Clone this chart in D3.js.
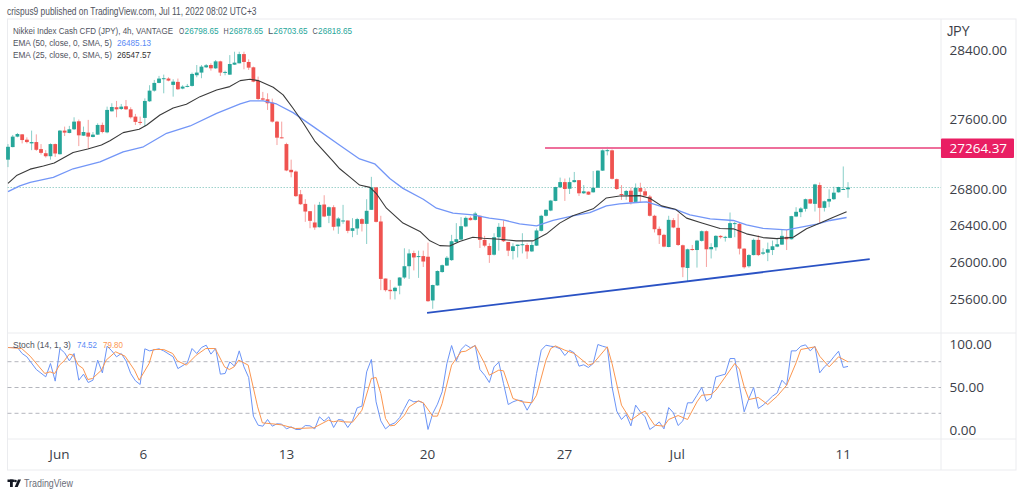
<!DOCTYPE html>
<html><head><meta charset="utf-8">
<script src="https://cdnjs.cloudflare.com/ajax/libs/d3/7.8.5/d3.min.js"></script>
<style>
html,body{margin:0;padding:0;background:#fff;overflow:hidden}
text{font-family:"Open Sans",sans-serif}
</style></head><body><svg id="c" width="1024" height="495"></svg>
<script>
const opens=[27132,27275,27394,27420,27359,27317,27332,27252,27205,27171,27309,27194,27463,27436,27478,27570,27405,27440,27390,27417,27528,27443,27685,27732,27712,27743,27708,27624,27563,27609,27801,27925,28015,28062,28066,27992,28027,27949,27972,27980,28105,28136,28198,28225,28186,28268,28136,28112,28229,28245,28354,28261,28198,28038,27835,27824,27785,27566,27386,27309,27017,26998,26743,26636,26555,26430,26378,26629,26504,26599,26386,26445,26452,26338,26364,26467,26415,26570,26820,26441,25819,25698,25683,25742,25830,25952,26095,26051,26062,26055,25584,25745,25889,25959,26018,26216,26242,26386,26481,26459,26504,26239,26172,26077,26268,26382,26216,26117,26172,26183,26183,26113,26176,26338,26504,26562,26669,26820,26879,26805,26879,26901,26754,26772,26765,26816,27008,27228,27238,26912,26746,26735,26783,26658,26813,26776,26717,26504,26360,26294,26161,26456,26371,26180,25933,26139,26128,26228,26334,26136,26158,26283,26264,26261,26415,26415,26143,25952,26073,26239,26088,26099,26128,26165,26187,26272,26246,26496,26544,26581,26688,26636,26846,26592,26662,26688,26765,26791,26798.65];
const highs=[27309,27413,27436,27424,27386,27463,27420,27309,27240,27317,27315,27470,27509,27517,27616,27590,27509,27586,27447,27547,27555,27739,27778,27805,27770,27816,27732,27655,27624,27835,27988,28050,28097,28112,28081,28058,28066,27988,28003,28136,28225,28225,28237,28245,28284,28276,28159,28342,28382,28382,28382,28292,28206,28089,27910,27894,27832,27575,27566,27324,27132,27010,26791,26688,26555,26629,26658,26732,26607,26621,26489,26625,26452,26478,26481,26478,26688,26938,26825,26504,25819,25804,25731,25834,26147,26136,26121,26121,26121,26209,25753,25907,25970,26062,26294,26423,26489,26496,26496,26548,26504,26283,26202,26312,26423,26452,26216,26202,26187,26312,26202,26220,26364,26515,26577,26680,26827,26930,26919,26930,26993,26901,26846,26775,27004,27012,27248,27277,27248,26919,26846,26791,26820,26864,26872,26809,26735,26515,26386,26305,26504,26478,26526,26187,26143,26183,26239,26342,26342,26202,26290,26290,26283,26540,26437,26423,26147,26084,26253,26290,26147,26209,26231,26257,26349,26349,26504,26599,26599,26695,26695,26860,26875,26673,26798,26827,26827,27055,26878.65];
const lows=[27048,27272,27386,27317,27317,27240,27232,27190,27156,27132,27163,27190,27401,27432,27470,27286,27401,27259,27386,27413,27432,27432,27682,27616,27701,27701,27601,27528,27528,27509,27793,27913,28011,27894,28034,27855,27933,27941,27964,27972,28081,28070,28190,28159,28179,28097,28105,28108,28225,28245,28175,28167,28023,27816,27808,27701,27555,27298,27374,27002,26933,26714,26625,26437,26367,26349,26375,26489,26423,26342,26305,26415,26312,26268,26294,26331,26194,26570,26430,25694,25679,25595,25595,25650,25815,25815,25907,25826,25944,25569,25495,25742,25882,25955,26010,26209,26239,26378,26452,26452,26150,26158,25988,26069,26121,26216,26062,26025,26047,26091,26032,26106,26172,26331,26496,26555,26665,26820,26669,26746,26875,26724,26746,26735,26761,26813,27004,27181,26908,26791,26680,26680,26629,26651,26658,26717,26496,26320,26194,26158,26158,26367,26172,25834,25790,26121,25937,26220,25944,26036,26121,26253,26220,26257,26268,26080,25926,25937,26069,26062,26073,26007,26073,26158,26183,26128,26242,26489,26489,26551,26636,26551,26423,26551,26599,26680,26761,26791,26703.65];
const closes=[27278,27394,27424,27355,27332,27332,27244,27209,27171,27309,27202,27463,27440,27478,27566,27409,27447,27394,27417,27528,27447,27701,27735,27708,27739,27708,27616,27563,27555,27805,27925,28015,28066,28070,28042,28030,27941,27972,27980,28120,28136,28206,28222,28186,28268,28136,28144,28237,28253,28354,28261,28194,28030,27828,27820,27778,27566,27382,27378,27010,26990,26722,26632,26551,26448,26375,26625,26496,26599,26382,26474,26452,26338,26367,26467,26415,26559,26820,26437,25815,25694,25683,25720,25830,25952,26091,26047,26062,26003,25576,25749,25900,25963,26044,26224,26246,26389,26481,26456,26529,26239,26176,26073,26268,26382,26224,26121,26169,26187,26191,26113,26183,26342,26504,26570,26673,26824,26879,26802,26879,26901,26754,26776,26739,26816,27008,27238,27240,26916,26802,26735,26780,26654,26816,26772,26728,26504,26356,26290,26165,26459,26375,26183,25940,26136,26128,26231,26334,26136,26161,26283,26268,26272,26423,26423,26143,25941,26073,26239,26073,26102,26136,26169,26191,26283,26246,26500,26548,26585,26688,26640,26853,26592,26665,26691,26761,26824,26802,26818.65];

const ema25Idx=[0,1.8,4.7,7.5,9.8,13.8,16.9,19.8,21.6,24.4,27.8,29.4,32.2,35,37.8,40.7,44.2,47,49.2,51.3,53,56.2,58.3,60.4,62.6,65,69,70.3,72.4,74.5,76.7,78,80.2,83.7,87.3,89.4,91.5,93.6,95.7,98.5,100.7,104.2,107.7,111.3,114.1,116.9,119.7,124,126.8,129.6,133.9,136,138.5,141.4,143.8,146.7,150.9,153.7,156.5,160,162.9,166.4,169.2,172.1,174.9,177.7];
const ema25Val=[26864,26952,27025,27060,27094,27213,27252,27298,27348,27440,27478,27528,27643,27724,27766,27855,27933,27972,28042,28058,28042,27964,27875,27720,27547,27344,27106,27029,26938,26846,26820,26754,26588,26423,26331,26228,26176,26172,26220,26268,26257,26246,26228,26228,26305,26423,26504,26581,26702,26724,26728,26699,26614,26577,26478,26430,26364,26360,26305,26264,26253,26268,26360,26423,26489,26547.57];
const ema50Idx=[0,2.5,4.7,9.6,13.8,19.5,24.4,28.7,33.6,38.6,44.2,49.2,51.3,54.1,56.9,60.4,64.7,70.3,74.5,77.7,80.9,83.7,88,90.8,94.3,98.5,102,104.9,108.4,112,115.5,119.7,123.3,126.8,129.6,133.9,135.3,138.9,141.7,144.5,148.8,153.7,156.5,160,165,167.8,171.4,174.2,177.7];
const ema50Val=[26772,26837,26875,26933,27029,27106,27221,27278,27432,27516,27662,27770,27805,27805,27770,27670,27509,27296,27140,27085,26919,26809,26688,26588,26533,26515,26478,26459,26415,26393,26452,26504,26540,26614,26636,26654,26658,26599,26570,26515,26470,26452,26404,26364,26349,26375,26412,26452,26485.13];

const kIdx=[0,2,3,4,6,8,9,10,11,12,13,14,15,16,17,18,19,20,21,22,23,24,25,26,27,28,29,30,32,33,35,36,38,39,40,41,42,43,44,45,46,47,48,49,50,51,52,53,54,55,56,57,58,59,60,61,62,63,64,65,66,67,68,69,70,71,72,73,74,75,76,77,78,79,80,81,82,83,84,85,86,87,88,89,90,91,92,93,94,95,96,97,98,99,100,101,102,103,104,105,106,107,108,109,110,111,112,113,114,115,116,117,118,119,120,121,122,123,124,125,126,127,128,129,130,131,132,133,134,135,136,137,138,139,140,141,142,143,144,145,146,147,148,149,150,152,153,154,155,156,157,158,159,160,161,162,163,164,165,166,167,168,169,170,171,172,173,174,175,176,177,178];
const kVal=[96.5,96.5,89.5,85.7,70.9,62.4,77.9,57.4,95.3,90.3,81,89.5,58.5,65.5,55.8,58.5,81.8,67,98,92.6,85.7,89.5,81,66.3,57.8,53.5,95,92.6,95,92.6,85.7,72,78.7,95.3,89.5,96.5,99.2,88.8,95.3,65.5,66.3,79.8,74.8,92.6,74,61.6,16.7,6.2,5,12.8,5,7.8,7.4,1.9,4.3,1.2,1.2,5.8,5.4,1.9,15.9,10.9,15.9,3.5,12.8,12,3.5,11.2,26.4,28.3,68.2,82.6,33.3,11.2,1.9,6.6,8.9,15.1,25.6,36,33.3,34.1,32.2,1.2,19.8,30.6,45,77.9,98.8,81,94.2,99.6,96.1,98.8,70.9,64.3,55.8,74,79.5,54.7,30.2,33.3,35.3,34.5,23.6,33.3,66.3,93.4,99.2,98,97.3,95,87.2,93.4,90.3,74.8,76.4,73.3,77.9,100,98,96.5,50.8,22.5,12.8,18.6,5.4,29.5,21.7,15.9,1.2,5,10,1.9,26.7,20.5,5.8,11.2,32.2,32.2,41,50,34.1,38,62.4,65.5,83.7,83.7,52.7,21.7,37.2,50,25.6,29.5,34.5,39.9,43.8,58.5,52.7,92.6,92.6,98,99.6,92.6,98,67,74,78.7,85.7,92.2,73.3,74.52];
const dIdx=[0,2.9,4.7,7.8,8.9,9.9,10.9,11.9,13,13.8,14.9,15.9,16.9,17.9,19.8,20.8,22.8,24.8,26.8,27.8,29.9,30.8,33,34.9,35.9,37.8,39.9,41.9,43.9,45.9,46.9,47.9,48.9,50.9,52.9,53.9,55.9,57.9,60.9,64.8,67.9,68.9,70,71,73,75,77,78,79,80,81,82,84,85,87,88,90,91,92,94,96,97,99,101,102,104,105,107,109,111,112,114,115,116,118,120,123,124,127,128,130,132,134,135,137,139,140,142,144,146,147,149,150,154,155,156,157,159,161,163,165,167,168,171,172,174,176,178];
const dVal=[96.5,95.3,86.4,66.3,68.2,66.3,76,81,88.8,87.6,76,72.1,59.3,60.5,70.2,81.8,91.5,86.4,70.2,58.5,77.9,94.2,94.2,89.5,81,76,87.6,95.3,95.3,74,70.9,74,81.8,76,27.5,8.9,7.8,6.6,2.3,3.1,12,10.1,11.2,10.1,9.7,23.6,60.5,61.6,43,14,5.4,6.2,17.8,27.5,34.5,32.2,16.7,16.7,31.4,76,91.5,92.2,98.8,77.9,64.3,70.2,69.4,37.2,33.3,32.2,41,81.8,95.3,98.4,93.4,89.5,76,77.9,97.3,77.9,29.5,12,19.8,22.5,6.2,5,12.8,17.4,12.8,33.3,41,41.9,46.9,77.9,71.3,50.8,36,38.4,30.2,39.9,52.7,78.7,94.2,97.3,86.4,74,85.7,79.8];

const priceTicks=[28400,27600,26800,26400,26000,25600];
const stochTicks=[100,50,0];
const stochBands=[80,50,20];
const timeIdx=[10.8,28.6,58.9,88.8,117.8,141.7,176.9];
const timeLabels=["Jun","6","13","20","27","Jul","11"];
const resistance=27264.37;
const resistanceFromIdx=113.8;
const supportIdx=[88.8,182.6];
const supportVal=[25451,26029];
const lastClose=26818.65;
const legendTitle="Nikkei Index Cash CFD (JPY), 4h, VANTAGE";
const ohlcLabels=[["O","26798.65"],["H","26878.65"],["L","26703.65"],["C","26818.65"]];

const UP="#26a69a",DOWN="#ef5350",GRID="#ebecef",TXT="#3b3e48";
const L=7.5,R=941,FR=1016,T=19,M=333,B=439,BB=470;
const svg=d3.select("#c");

const x=d3.scaleLinear().domain([0,178]).range([8,848]);
const y=d3.scaleLog().domain([lastClose,resistance]).range([187.5,148]);
const ys=d3.scaleLinear().domain([0,100]).range([430.5,344.5]);

// frame
const frame=svg.append("g").attr("stroke",GRID).attr("fill","none");
frame.append("rect").attr("x",L).attr("y",T).attr("width",FR-L).attr("height",BB-T);
[[L,M,FR,M],[L,B,FR,B],[R,T,R,BB]].forEach(d=>frame.append("line").attr("x1",d[0]).attr("y1",d[1]).attr("x2",d[2]).attr("y2",d[3]));

// last price dotted
svg.append("line").attr("x1",L).attr("x2",R).attr("y1",y(lastClose)).attr("y2",y(lastClose))
 .attr("stroke","#9fd3cd").attr("stroke-dasharray","1.5 1.5");

// stoch bands
svg.append("g").selectAll("line").data(stochBands).join("line")
 .attr("x1",L).attr("x2",R).attr("y1",d=>ys(d)).attr("y2",d=>ys(d))
 .attr("stroke","#b4b6bd").attr("stroke-dasharray","4 3");

// candles
const idx=d3.range(closes.length);
const gc=svg.append("g");
gc.selectAll("line").data(idx).join("line")
 .attr("x1",i=>x(i)).attr("x2",i=>x(i)).attr("y1",i=>y(highs[i])).attr("y2",i=>y(lows[i]))
 .attr("stroke",i=>closes[i]>=opens[i]?UP:DOWN).attr("stroke-opacity",.55).attr("stroke-width",1);
gc.selectAll("rect").data(idx).join("rect")
 .attr("x",i=>x(i)-1.9).attr("width",3.8)
 .attr("y",i=>y(Math.max(opens[i],closes[i])))
 .attr("height",i=>Math.max(1,Math.abs(y(opens[i])-y(closes[i]))))
 .attr("fill",i=>closes[i]>=opens[i]?UP:DOWN);

// lines
function pl(ix,val,ysc,col,w){
 const ln=d3.line().x(d=>x(d[0])).y(d=>ysc(d[1])).curve(d3.curveLinear);
 svg.append("path").attr("d",ln(ix.map((v,i)=>[v,val[i]]))).attr("fill","none")
  .attr("stroke",col).attr("stroke-width",w).attr("stroke-linejoin","round");
}
pl(ema50Idx,ema50Val,y,"#7396f7",1.3);
pl(ema25Idx,ema25Val,y,"#3a3a3a",1.1);
pl(kIdx,kVal,ys,"#6b94f7",1);
pl(dIdx,dVal,ys,"#fb9650",1);

// drawn trend lines
svg.append("line").attr("x1",x(resistanceFromIdx)).attr("x2",R).attr("y1",y(resistance)).attr("y2",y(resistance))
 .attr("stroke","#ee6f9b").attr("stroke-width",1.8);
svg.append("line").attr("x1",x(supportIdx[0])).attr("x2",x(supportIdx[1])).attr("y1",y(supportVal[0])).attr("y2",y(supportVal[1]))
 .attr("stroke","#2a52c4").attr("stroke-width",1.8);

// axes
const fmt=d3.format(".2f");
const ay=svg.append("g").attr("transform",`translate(${R},0)`).call(d3.axisRight(y).tickValues(priceTicks).tickFormat(fmt).tickSize(0).tickPadding(8.5));
const as=svg.append("g").attr("transform",`translate(${R},0)`).call(d3.axisRight(ys).tickValues(stochTicks).tickFormat(fmt).tickSize(0).tickPadding(8.5));
const ax=svg.append("g").attr("transform",`translate(0,${B})`).call(d3.axisBottom(x).tickValues(timeIdx).tickFormat((d,i)=>timeLabels[i]).tickSize(0).tickPadding(10));
[ay,as,ax].forEach(a=>{a.select(".domain").remove();a.selectAll("text").attr("fill",TXT).attr("font-size",13.5).style("font-family",'"Open Sans",sans-serif');});

// resistance tag
svg.append("rect").attr("x",R).attr("y",y(resistance)-9.5).attr("width",73).attr("height",19.5).attr("rx",1).attr("fill","#e91e63");
svg.append("text").attr("x",R+8.5).attr("y",y(resistance)+5).attr("fill","#fff").attr("font-size",13.5).text(fmt(resistance));

// text: squeezed horizontally to the measured width of each run in the reference
function t(xp,yp,s,col,w,sz){
 const e=svg.append("text").attr("fill",col||"#555862").attr("font-size",sz||9.6)
  .style("font-family",'"Liberation Sans",Arial,sans-serif').text(s);
 const n=e.node().getComputedTextLength();
 e.attr("transform",`translate(${xp},${yp}) scale(${w/n},1)`);
 return e;
}
t(947,36,"JPY",TXT,23,14);
t(7,14.5,"crispus9 published on TradingView.com, Jul 11, 2022 08:02 UTC+3","#50535e",250,10);
t(13,33.5,legendTitle,"#50535e",160);
let ox=179;
ohlcLabels.forEach(d=>{t(ox,33.5,d[0],"#50535e",5.2);t(ox+5.6,33.5,d[1],UP,34);ox+=44.5;});
t(13,45.5,"EMA (50, close, 0, SMA, 5)","#50535e",99);
t(117,45.5,"26485.13","#5b8af5",34);
t(13,57.5,"EMA (25, close, 0, SMA, 5)","#50535e",99);
t(117,57.5,"26547.57","#333",34);
t(13,348,"Stoch (14, 1, 3)","#50535e",58);
t(77,348,"74.52","#5b8af5",20);
t(103,348,"79.80","#fb9650",20);

// logo
const logo=svg.append("g").attr("fill","#131722");
logo.append("rect").attr("x",7.5).attr("y",479.5).attr("width",7).attr("height",2.5);
logo.append("rect").attr("x",10).attr("y",479.5).attr("width",2.8).attr("height",7.5);
logo.append("circle").attr("cx",15.5).attr("cy",481).attr("r",1.3);
logo.append("path").attr("d","M18 479.5h3l-3.3 7.5h-3z");
t(24,486.5,"TradingView","#6a6d78",49,10.5);
</script></body></html>
